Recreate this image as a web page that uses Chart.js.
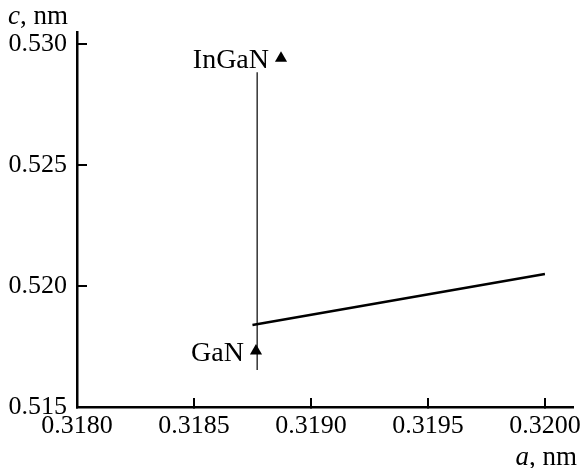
<!DOCTYPE html>
<html>
<head>
<meta charset="utf-8">
<script src="https://cdn.jsdelivr.net/npm/chart.js@4"></script>
<style>
  html, body { margin: 0; padding: 0; background: #fff; }
  #wrap { width: 582px; height: 468px; }
</style>
</head>
<body>
<div id="wrap"><canvas id="chart" width="582" height="468"></canvas></div>
<script>
// lattice parameters, nm
const xTicks = [0.3180, 0.3185, 0.3190, 0.3195, 0.3200]
const yTicks = [0.515, 0.520, 0.525, 0.530]

const verticalA = [0.31877, 0.31877]
const verticalC = [0.51653, 0.52884]

const trendA = [0.31875, 0.3200]
const trendC = [0.51839, 0.52050]

const pointNames = ["GaN", "InGaN"]
const pointA = [0.318765, 0.318872]
const pointC = [0.51731, 0.52942]

const serif = "'Liberation Serif', 'DejaVu Serif', serif"
const zip = (xs, ys) => xs.map((x, i) => ({ x, y: ys[i] }))

// axis titles and point labels
const textPlugin = {
  id: "texts",
  afterDraw(chart) {
    const { ctx } = chart
    ctx.save()
    ctx.fillStyle = "#000"
    ctx.textBaseline = "alphabetic"

    // c, nm
    ctx.textAlign = "left"
    ctx.font = `italic 27px ${serif}`
    ctx.fillText("c", 8, 24)
    let w = ctx.measureText("c").width
    ctx.font = `27px ${serif}`
    ctx.fillText(", nm", 8 + w, 24)

    // a, nm
    ctx.textAlign = "right"
    ctx.font = `27px ${serif}`
    const rest = ", nm"
    ctx.fillText(rest, 577, 465)
    w = ctx.measureText(rest).width
    ctx.font = `italic 27px ${serif}`
    ctx.fillText("a", 577 - w, 465)

    // point labels
    const meta = chart.getDatasetMeta(2)
    ctx.font = `28px ${serif}`
    ctx.textAlign = "right"
    meta.data.forEach((pt, i) => {
      ctx.fillText(pointNames[i], pt.x - 12, pt.y + 10)
    })
    ctx.restore()
  }
}

new Chart(document.getElementById("chart"), {
  type: "scatter",
  data: {
    datasets: [
      {
        data: zip(verticalA, verticalC),
        showLine: true,
        borderColor: "#000",
        borderWidth: 1.2,
        pointRadius: 0
      },
      {
        data: zip(trendA, trendC),
        showLine: true,
        borderColor: "#000",
        borderWidth: 2.6,
        pointRadius: 0
      },
      {
        data: zip(pointA, pointC),
        pointStyle: "triangle",
        pointRadius: 7,
        backgroundColor: "#000",
        borderColor: "#000",
        borderWidth: 0
      }
    ]
  },
  options: {
    responsive: false,
    devicePixelRatio: 1,
    animation: false,
    layout: { padding: { top: 32, right: 9, bottom: 0, left: 0 } },
    plugins: { legend: { display: false }, tooltip: { enabled: false } },
    scales: {
      x: {
        type: "linear",
        min: 0.318,
        max: 0.32012,
        afterBuildTicks: s => { s.ticks = xTicks.map(value => ({ value })) },
        afterFit: s => {
          s.height = 61
          s.paddingLeft = 0
          s.paddingRight = 0
        },
        border: { display: true, color: "#000", width: 2.5 },
        grid: { drawOnChartArea: false, color: "#000", lineWidth: 2, tickLength: -9 },
        ticks: {
          autoSkip: false,
          maxRotation: 0,
          padding: 13,
          color: "#000",
          font: { family: serif, size: 26 },
          callback: v => v.toFixed(4)
        }
      },
      y: {
        type: "linear",
        min: 0.515,
        max: 0.5305,
        afterBuildTicks: s => { s.ticks = yTicks.map(value => ({ value })) },
        afterFit: s => {
          s.width = 77
          s.paddingTop = 0
          s.paddingBottom = 0
        },
        border: { display: true, color: "#000", width: 2.5 },
        grid: { drawOnChartArea: false, color: "#000", lineWidth: 2, tickLength: -10 },
        ticks: {
          autoSkip: false,
          padding: 20,
          color: "#000",
          font: { family: serif, size: 26 },
          callback: v => v.toFixed(3)
        }
      }
    }
  },
  plugins: [textPlugin]
})
</script>
</body>
</html>
